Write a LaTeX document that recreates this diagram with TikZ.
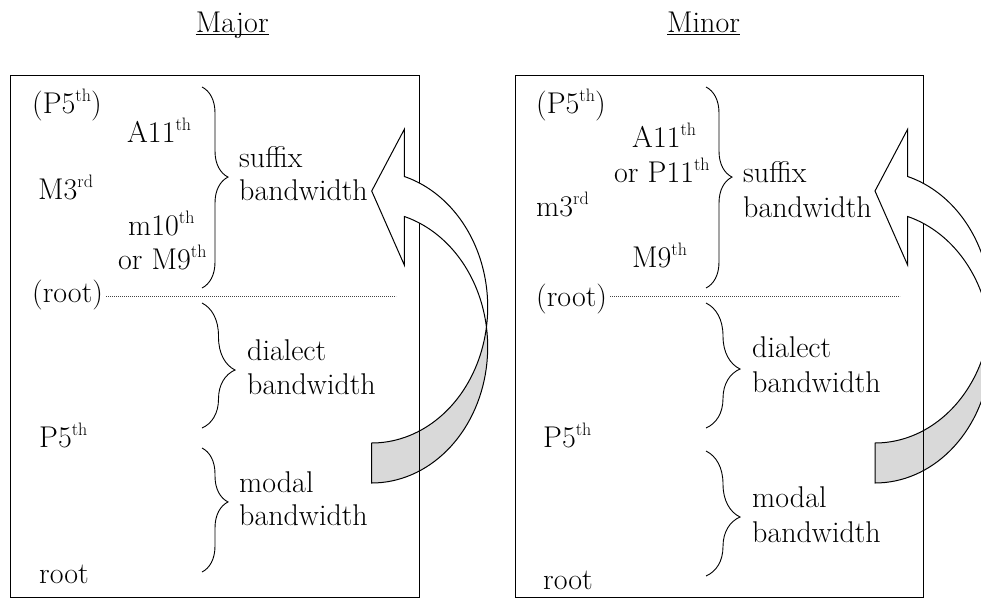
\documentclass[tikz,border=0pt]{standalone}
\usetikzlibrary{decorations.pathreplacing}
\newcommand{\sups}[1]{\raisebox{12pt}{\fontsize{18}{18}\selectfont #1}}
\definecolor{backgray}{HTML}{D9D9D9}
\definecolor{dotgray}{HTML}{444444}
\begin{document}
\begin{tikzpicture}[x=1pt,y=-1pt,
  txt/.style={inner sep=0pt, anchor=base west, font=\fontsize{30}{34}\selectfont},
  bracestyle/.style={decorate, line width=0.9pt},
  boxstyle/.style={line width=1pt},
  dotline/.style={dotgray, line width=0.8pt, dash pattern=on 0.8pt off 1.2pt},
  arrowline/.style={line width=1pt},
  uline/.style={line width=0.8pt}]
\useasboundingbox (0,0) rectangle (981,598);
\clip (0,0) rectangle (981,598);

% ---------- curved arrows: back (gray) parts ----------
\foreach \dx in {0,503.3}{
  \begin{scope}[shift={(\dx,0)}]
    \draw[arrowline, fill=backgray]
      plot[domain=8.46:90, samples=40] ({371.7+116*cos(\x)},{307+136*sin(\x)})
      -- plot[domain=90:-8.46, samples=40] ({371.7+116*cos(\x)},{347+136*sin(\x)})
      -- cycle;
  \end{scope}
}

% ---------- boxes ----------
\draw[boxstyle] (10.7,75) rectangle (419.3,597.5);
\draw[boxstyle] (515,75) rectangle (923,597.5);

% ---------- curved arrows: front (white) parts ----------
\foreach \dx in {0,503.3}{
  \begin{scope}[shift={(\dx,0)}]
    \draw[arrowline, fill=white, line join=miter]
      plot[domain=-73.7:8.46, samples=50] ({371.7+116*cos(\x)},{307+136*sin(\x)})
      -- plot[domain=-8.46:-73.7, samples=50] ({371.7+116*cos(\x)},{347+136*sin(\x)})
      -- (404.3,265) -- (371.7,191) -- (404.3,129.3) -- cycle;
  \end{scope}
}

% ---------- titles ----------
\node[txt] (titleL) at (195.7,32) {Major};
\node[txt] (titleR) at (667,32) {Minor};
\draw[uline] ([yshift=-2pt]titleL.base west) -- ([yshift=-2pt]titleL.base east);
\draw[uline] ([yshift=-2pt]titleR.base west) -- ([yshift=-2pt]titleR.base east);

% ---------- left panel texts ----------
\node[txt] (P5L) at (32,113) {(P5\sups{th})};
\node[txt] (A11L) at (127,142) {A11\sups{th}};
\node[txt] (M3L) at (38,199) {M3\sups{rd}};
\node[txt] (m10L) at (128,235) {m10\sups{th}};
\node[txt] (orM9L) at (118,269) {or M9\sups{th}};
\node[txt] (rootTL) at (32,302) {(root)};
\node[txt] (P5bL) at (39,447) {P5\sups{th}};
\node[txt] (rootL) at (39,583) {root};
\node[txt] (suffixL) at (239,167) {suffix};
\node[txt] (bwsufL) at (239,200) {bandwidth};
\node[txt] (dialectL) at (247,360) {dialect};
\node[txt] (bwdiaL) at (247,394) {bandwidth};
\node[txt] (modalL) at (239,492) {modal};
\node[txt] (bwmodL) at (239,525) {bandwidth};

% ---------- right panel texts ----------
\node[txt] (P5R) at (536,113) {(P5\sups{th})};
\node[txt] (A11R) at (632,147) {A11\sups{th}};
\node[txt] (orP11R) at (614,182) {or P11\sups{th}};
\node[txt] (m3R) at (536,216) {m3\sups{rd}};
\node[txt] (M9R) at (632,267) {M9\sups{th}};
\node[txt] (rootTR) at (536,306) {(root)};
\node[txt] (P5bR) at (543,447) {P5\sups{th}};
\node[txt] (rootR) at (543,589) {root};
\node[txt] (suffixR) at (743,182) {suffix};
\node[txt] (bwsufR) at (743,217) {bandwidth};
\node[txt] (dialectR) at (752,357) {dialect};
\node[txt] (bwdiaR) at (752,392) {bandwidth};
\node[txt] (modalR) at (752,507) {modal};
\node[txt] (bwmodR) at (752,542) {bandwidth};

% ---------- dotted root lines ----------
\draw[dotline] (106,296) -- (396,296);
\draw[dotline] (610,296) -- (900,296);

% ---------- braces ----------
\draw[bracestyle, decoration={brace, amplitude=26pt, aspect=0.448}] (202,87) -- (202,288);
\draw[bracestyle, decoration={brace, amplitude=33pt, aspect=0.536}] (202,303) -- (202,428);
\draw[bracestyle, decoration={brace, amplitude=26pt, aspect=0.435}] (202,448) -- (202,572);
\draw[bracestyle, decoration={brace, amplitude=26pt, aspect=0.448}] (706,87) -- (706,288);
\draw[bracestyle, decoration={brace, amplitude=34pt, aspect=0.528}] (706,303) -- (706,428);
\draw[bracestyle, decoration={brace, amplitude=34pt, aspect=0.528}] (706,451) -- (706,576);
\end{tikzpicture}
\end{document}
